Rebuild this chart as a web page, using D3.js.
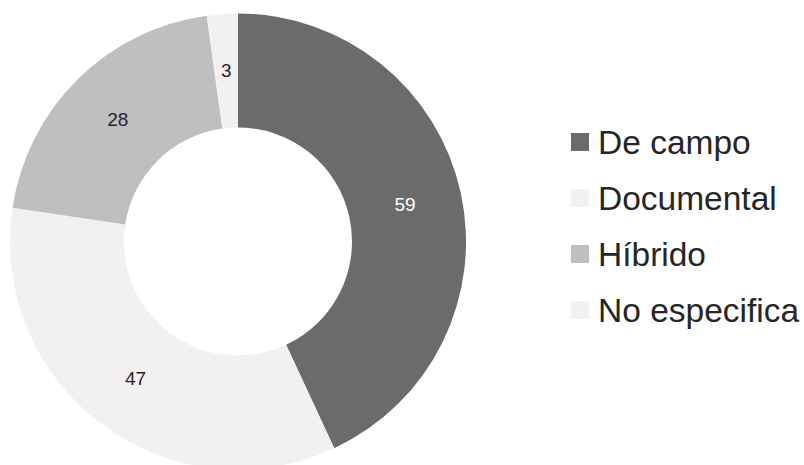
<!DOCTYPE html>
<html><head><meta charset="utf-8">
<script src="https://cdn.jsdelivr.net/npm/d3@7"></script>
<style>html,body{margin:0;padding:0;background:#fff;}svg{display:block;}</style>
</head><body>
<svg id="chart" width="804" height="465"></svg>
<script>
const categories = ["De campo", "Documental", "Híbrido", "No especifica"];
const values = [59, 47, 28, 3];
const colors = ["#6b6b6b", "#f2f1f0", "#bfbfc1", "#f2f1f0"];
const labelColors = ["#ffffff", "#262626", "#262626", "#262626"];

const data = categories.map((c, i) => ({cat: c, value: values[i], color: colors[i], lc: labelColors[i]}));
const svg = d3.select("#chart");
const cx = 238, cy = 241.5, outerR = 228, innerR = 114;
const g = svg.append("g").attr("transform", `translate(${cx},${cy})`);
const pie = d3.pie().value(d => d.value).sort(null);
const arc = d3.arc().innerRadius(innerR).outerRadius(outerR);
const arcs = pie(data);
g.selectAll("path").data(arcs).join("path")
  .attr("d", arc).attr("fill", d => d.data.color);
g.selectAll("text").data(arcs).join("text")
  .attr("transform", d => `translate(${arc.centroid(d)})`)
  .attr("text-anchor", "middle").attr("dominant-baseline", "central")
  .attr("font-family", "Liberation Sans, Arial, sans-serif").attr("font-size", 19)
  .attr("fill", d => d.data.lc).text(d => d.data.value);

const legend = svg.append("g");
const ly = d3.scalePoint().domain(categories).range([133, 301]);
const items = legend.selectAll("g").data(data).join("g")
  .attr("transform", d => `translate(571,${ly(d.cat)})`);
items.append("rect").attr("x", 0).attr("y", 0).attr("width", 18).attr("height", 18)
  .attr("fill", d => d.color);
items.append("text").attr("x", 27).attr("y", 9).attr("dominant-baseline", "central")
  .attr("font-family", "Liberation Sans, Arial, sans-serif").attr("font-size", 33.5)
  .attr("fill", "#262626").text(d => d.cat);
</script>
</body></html>
